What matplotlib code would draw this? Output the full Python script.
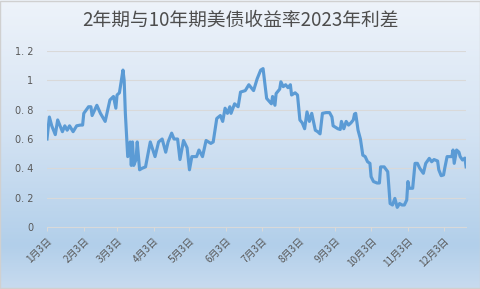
import matplotlib
matplotlib.use("Agg")
import matplotlib.pyplot as plt
from matplotlib.colors import LinearSegmentedColormap
import numpy as np
import pandas as pd

plt.rcParams['font.family'] = ['Noto Sans CJK SC', 'DejaVu Sans']

title = "2年期与10年期美债收益率2023年利差"

dates = [
    "2023-01-03", "2023-01-05", "2023-01-07", "2023-01-10", "2023-01-12", "2023-01-16",
    "2023-01-18", "2023-01-20", "2023-01-22", "2023-01-25", "2023-01-28", "2023-01-31",
    "2023-02-02", "2023-02-03", "2023-02-07", "2023-02-09", "2023-02-10", "2023-02-14",
    "2023-02-17", "2023-02-21", "2023-02-24", "2023-02-25", "2023-02-28", "2023-03-02",
    "2023-03-03", "2023-03-05", "2023-03-08", "2023-03-09", "2023-03-10", "2023-03-12",
    "2023-03-14", "2023-03-15", "2023-03-16", "2023-03-17", "2023-03-19", "2023-03-20",
    "2023-03-22", "2023-03-24", "2023-03-27", "2023-03-31", "2023-04-04", "2023-04-07",
    "2023-04-10", "2023-04-13", "2023-04-15", "2023-04-18", "2023-04-20", "2023-04-23",
    "2023-04-25", "2023-04-28", "2023-05-01", "2023-05-03", "2023-05-05", "2023-05-09",
    "2023-05-11", "2023-05-14", "2023-05-17", "2023-05-21", "2023-05-23", "2023-05-26",
    "2023-05-29", "2023-05-31", "2023-06-02", "2023-06-04", "2023-06-06", "2023-06-07",
    "2023-06-10", "2023-06-13", "2023-06-15", "2023-06-19", "2023-06-22", "2023-06-26",
    "2023-06-29", "2023-07-02", "2023-07-04", "2023-07-07", "2023-07-11", "2023-07-12",
    "2023-07-14", "2023-07-15", "2023-07-18", "2023-07-19", "2023-07-21", "2023-07-23",
    "2023-07-25", "2023-07-27", "2023-07-28", "2023-07-31", "2023-08-02", "2023-08-04",
    "2023-08-06", "2023-08-08", "2023-08-10", "2023-08-12", "2023-08-14", "2023-08-17",
    "2023-08-19", "2023-08-21", "2023-08-23", "2023-08-26", "2023-08-29", "2023-08-31",
    "2023-09-01", "2023-09-05", "2023-09-07", "2023-09-08", "2023-09-10", "2023-09-12",
    "2023-09-14", "2023-09-16", "2023-09-18", "2023-09-19", "2023-09-20", "2023-09-22",
    "2023-09-24", "2023-09-26", "2023-09-28", "2023-09-30", "2023-10-02", "2023-10-03",
    "2023-10-05", "2023-10-08", "2023-10-10", "2023-10-11", "2023-10-14", "2023-10-17",
    "2023-10-19", "2023-10-21", "2023-10-23", "2023-10-25", "2023-10-27", "2023-10-29",
    "2023-10-31", "2023-11-02", "2023-11-03", "2023-11-04", "2023-11-07", "2023-11-09",
    "2023-11-11", "2023-11-13", "2023-11-16", "2023-11-18", "2023-11-21", "2023-11-23",
    "2023-11-25", "2023-11-28", "2023-11-29", "2023-12-01", "2023-12-03", "2023-12-04",
    "2023-12-06", "2023-12-08", "2023-12-10", "2023-12-11", "2023-12-12", "2023-12-14",
    "2023-12-16", "2023-12-17", "2023-12-19", "2023-12-21", "2023-12-22",
]
spread = [
    0.60, 0.75, 0.69, 0.63, 0.73, 0.65,
    0.69, 0.66, 0.69, 0.65, 0.69, 0.695,
    0.695, 0.775, 0.82, 0.82, 0.76, 0.83,
    0.775, 0.72, 0.83, 0.866, 0.89, 0.81,
    0.90, 0.915, 1.07, 1.00, 0.775, 0.48,
    0.58, 0.42, 0.58, 0.42, 0.46, 0.58,
    0.39, 0.40, 0.41, 0.58, 0.48, 0.58,
    0.60, 0.51, 0.58, 0.64, 0.60, 0.60,
    0.46, 0.59, 0.54, 0.39, 0.48, 0.48,
    0.525, 0.48, 0.59, 0.57, 0.58, 0.74,
    0.76, 0.72, 0.81, 0.775, 0.82, 0.775,
    0.84, 0.82, 0.92, 0.93, 0.97, 0.93,
    1.01, 1.07, 1.08, 0.877, 0.84, 0.89,
    0.83, 0.91, 0.94, 0.99, 0.957, 0.97,
    0.95, 0.97, 0.90, 0.915, 0.90, 0.73,
    0.71, 0.67, 0.785, 0.72, 0.775, 0.66,
    0.65, 0.635, 0.775, 0.78, 0.78, 0.75,
    0.69, 0.67, 0.665, 0.72, 0.67, 0.72,
    0.695, 0.71, 0.73, 0.77, 0.775, 0.66,
    0.60, 0.49, 0.48, 0.445, 0.434, 0.343,
    0.31, 0.30, 0.30, 0.41, 0.41, 0.377,
    0.16, 0.15, 0.195, 0.134, 0.16, 0.15,
    0.15, 0.184, 0.31, 0.264, 0.264, 0.434,
    0.434, 0.40, 0.366, 0.434, 0.468, 0.445,
    0.46, 0.45, 0.39, 0.35, 0.355, 0.40,
    0.48, 0.48, 0.48, 0.525, 0.434, 0.525,
    0.51, 0.48, 0.457, 0.47, 0.41,
]
tick_dates = ["2023-01-03", "2023-02-03", "2023-03-03", "2023-04-03", "2023-05-03",
              "2023-06-03", "2023-07-03", "2023-08-03", "2023-09-03", "2023-10-03",
              "2023-11-03", "2023-12-03"]
tick_labels = ["1月3日", "2月3日", "3月3日", "4月3日", "5月3日", "6月3日",
               "7月3日", "8月3日", "9月3日", "10月3日", "11月3日", "12月3日"]
y_ticks = [0, 0.2, 0.4, 0.6, 0.8, 1.0, 1.2]
y_labels = ["0", "0. 2", "0. 4", "0. 6", "0. 8", "1", "1. 2"]

x = pd.to_datetime(dates)
xt = pd.to_datetime(tick_dates)

fig = plt.figure(figsize=(4.81, 2.89), dpi=100)

# background gradient
bg = fig.add_axes([0, 0, 1, 1], zorder=-10)
cmap = LinearSegmentedColormap.from_list("bg", [
    (0.0, "#eef3fa"), (0.45, "#d4e3f3"), (0.85, "#b2cfea"), (1.0, "#c8dbef")])
grad = np.linspace(0, 1, 256).reshape(-1, 1)
bg.imshow(grad, aspect="auto", cmap=cmap, extent=[0, 1, 0, 1], origin="upper")
bg.set_xlim(0, 1); bg.set_ylim(0, 1)
bg.axis("off")
bg.add_patch(plt.Rectangle((0.001, 0.002), 0.997, 0.995, fill=False,
                           edgecolor="#d0d0d0", linewidth=1.0))

ax = fig.add_axes([0.0977, 0.2145, 0.8713, 0.609])
ax.patch.set_alpha(0)
ax.plot(x, spread, color="#5b9bd5", linewidth=2.25, solid_joinstyle="round", zorder=3)

ax.set_ylim(0, 1.2)
ax.set_xlim(pd.Timestamp("2023-01-03"), pd.Timestamp("2023-12-22"))
ax.set_yticks(y_ticks)
ax.set_yticklabels(y_labels, fontsize=7, color="#595959", family=["DejaVu Sans"])
ax.yaxis.grid(True, color="#d9d9d9", linewidth=0.8)
ax.set_axisbelow(True)
ax.tick_params(axis="y", length=0, pad=10)

ax.set_xticks(xt)
ax.set_xticklabels(tick_labels, fontsize=7.2, color="#595959", rotation=45,
                   ha="right", rotation_mode="anchor")
ax.tick_params(axis="x", length=3, color="#d9d9d9", width=0.8, pad=3)

for s in ["top", "right", "left"]:
    ax.spines[s].set_visible(False)
ax.spines["bottom"].set_color("#d9d9d9")
ax.spines["bottom"].set_linewidth(0.8)

fig.text(0.5, 0.93, title, ha="center", va="center", fontsize=13.5, color="#4d4d4d")

fig.savefig("out.png", dpi=100)
